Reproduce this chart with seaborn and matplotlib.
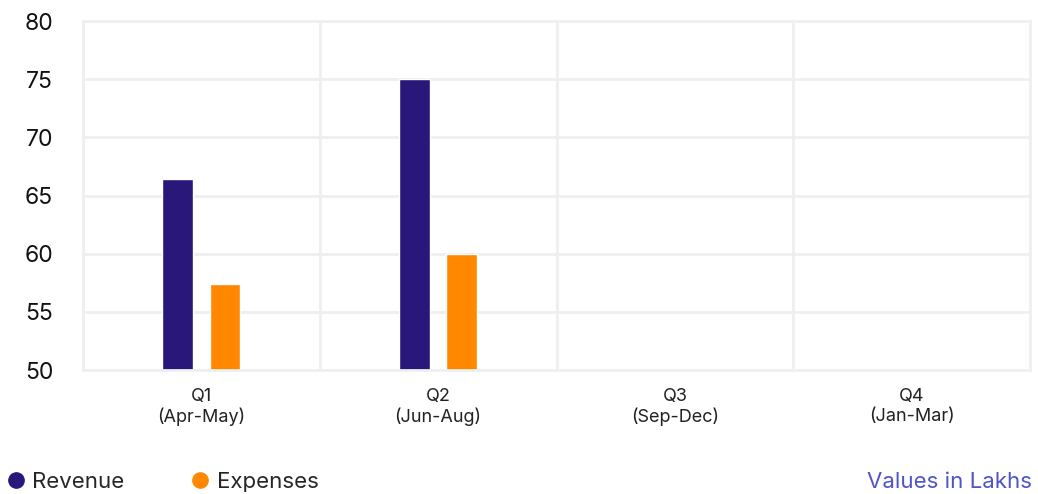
import numpy as np
import pandas as pd
import matplotlib.pyplot as plt
import seaborn as sns
from matplotlib.lines import Line2D

quarters = ['Q1\n(Apr-May)', 'Q2\n(Jun-Aug)', 'Q3\n(Sep-Dec)', 'Q4\n(Jan-Mar)']
revenue = [66.4, 75.0, np.nan, np.nan]
expenses = [57.4, 60.0, np.nan, np.nan]
series = ['Revenue', 'Expenses']
colors = ['#29177a', '#ff8800']

df = pd.DataFrame({'Quarter': quarters * 2,
                   'Value': revenue + expenses,
                   'Series': ['Revenue'] * 4 + ['Expenses'] * 4})

sns.set_style('white')
plt.rcParams['font.family'] = ['Inter', 'DejaVu Sans']

fig = plt.figure(figsize=(10.38, 4.94), dpi=100)
ax = fig.add_axes([83 / 1038, 1 - 370 / 494, (1030 - 83) / 1038, (370 - 21) / 494])

sns.barplot(data=df, x='Quarter', y='Value', hue='Series', order=quarters,
            hue_order=series, palette=colors, width=0.4, gap=0.35,
            saturation=1, ax=ax, legend=False)

ax.set_ylim(50, 80)
ax.set_xlim(-0.5, 3.5)
ax.set_yticks(range(50, 81, 5))
ax.set_xticks(np.arange(-0.5, 4, 1), minor=True)
ax.grid(True, axis='y', which='major', color='#efefef', linewidth=2)
ax.grid(True, axis='x', which='minor', color='#efefef', linewidth=2)
ax.grid(False, axis='x', which='major')
ax.set_axisbelow(True)
for s in ax.spines.values():
    s.set_color('#efefef')
    s.set_linewidth(2)
ax.tick_params(axis='y', length=0, pad=21.5, labelsize=16.5, labelcolor='#111111')
ax.tick_params(axis='x', which='both', length=0, pad=13, labelsize=13, labelcolor='#222222')
ax.set_xlabel('')
ax.set_ylabel('')

handles = [Line2D([], [], marker='o', linestyle='', color=c, markersize=11) for c in colors]
fig.legend(handles, series, loc='center left', bbox_to_anchor=(0.0065, 0.0243), ncol=2,
           frameon=False, fontsize=16, handletextpad=0.35, columnspacing=3.0,
           borderaxespad=0, borderpad=0, handlelength=0.8)
fig.text(0.9942, 0.0243, 'Values in Lakhs', ha='right', va='center', fontsize=16,
         color='#4f54c8')

fig.savefig('out.png', dpi=100)
